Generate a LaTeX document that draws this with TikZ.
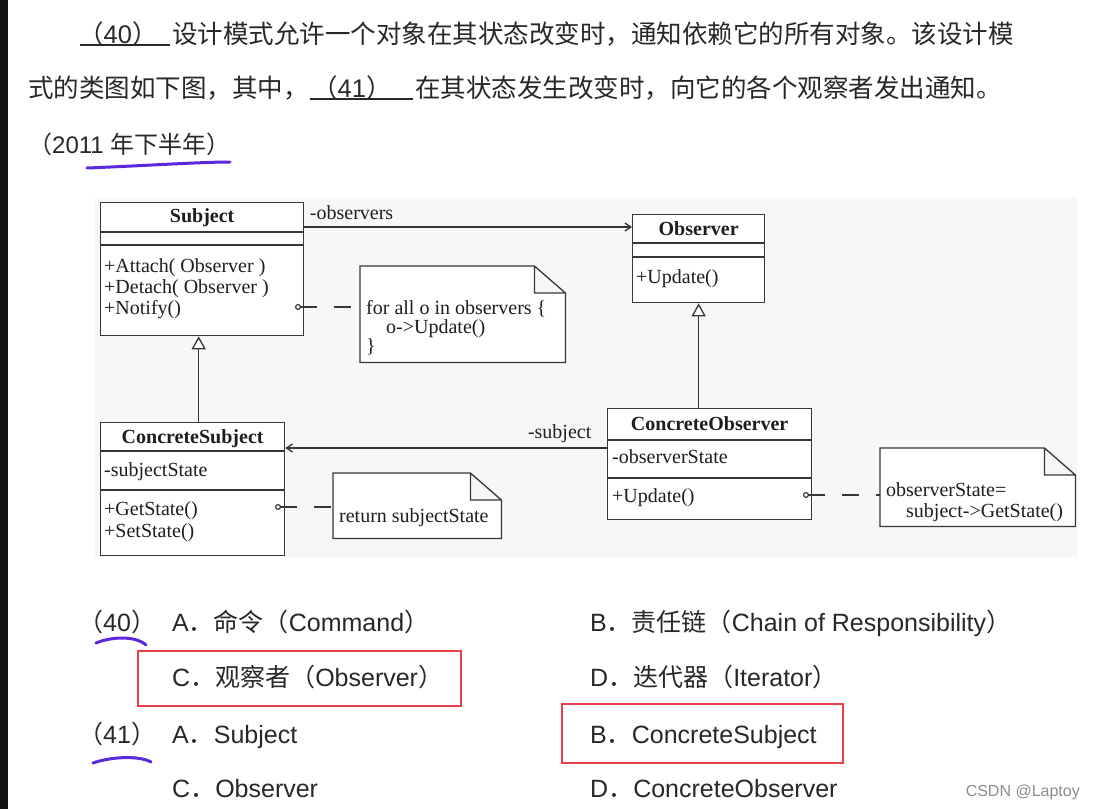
\documentclass[tikz,border=0pt]{standalone}
\usepackage{fontspec}
\usepackage{tikz}
\usetikzlibrary{arrows.meta}
\setmainfont{Liberation Sans}
\newfontfamily\cjk{Noto Sans CJK SC}
\newfontfamily\umlfont{Liberation Serif}
\definecolor{umlline}{RGB}{55,55,55}
\definecolor{umltext}{RGB}{30,30,30}
\definecolor{qink}{RGB}{40,40,40}
\definecolor{diagbg}{RGB}{247,247,247}
\definecolor{pickred}{RGB}{232,62,72}
\definecolor{penink}{RGB}{92,40,220}

\begin{document}
\begin{tikzpicture}[
  x=1pt, y=-1pt,
  cls/.style={draw=umlline, line width=1.3pt, fill=white, inner sep=0pt, anchor=north west},
  sep/.style={draw=umlline, line width=1.3pt},
  ctitle/.style={font=\umlfont\bfseries\fontsize{20}{24}\selectfont, text=umltext, anchor=base, inner sep=0pt},
  member/.style={font=\umlfont\fontsize{20}{24}\selectfont, text=umltext, anchor=base west, inner sep=0pt},
  notebox/.style={inner sep=0pt, anchor=north west},
  noteline/.style={draw=umlline, line width=1.3pt, fill=white},
  notelink/.style={{Circle[open, length=6pt, width=6pt]}-, draw=umlline, line width=1.2pt, dash pattern=on 17pt off 17pt},
  assoc/.style={-{Straight Barb[length=6pt, width=8pt]}, draw=umlline, line width=1.3pt},
  inherit/.style={-{Triangle[length=13pt, width=14pt, fill=white]}, draw=umlline, line width=1.3pt},
  lbl/.style={font=\umlfont\fontsize{20}{24}\selectfont, text=umltext, inner sep=0pt},
  qtext/.style={anchor=base west, inner sep=0pt, font=\fontsize{25.5}{30}\selectfont, text=qink},
  opt/.style={anchor=base west, inner sep=0pt, font=\fontsize{25}{30}\selectfont, text=qink},
  pick/.style={draw=pickred, line width=2pt, inner sep=0pt, anchor=north west},
  ink/.style={draw=penink, line width=3pt, line cap=round},
  uline/.style={draw=qink, line width=1.6pt}
]
\fill[white] (0,0) rectangle (1094,809);
\useasboundingbox (0,0) rectangle (1094,809);
\fill[black!93] (0,0) rectangle (8,809);

% question
\node[qtext] (q40) at (78,43) {{\cjk （}40{\cjk ）}};
\draw[uline] (80,45) -- (170,45);
\node[qtext] (q1) at (172,43) {\cjk 设计模式允许一个对象在其状态改变时，通知依赖它的所有对象。该设计模};
\node[qtext] (q2a) at (28,97) {\cjk 式的类图如下图，其中，};
\node[qtext] (q41) at (312,97) {{\cjk （}41{\cjk ）}};
\draw[uline] (310,99) -- (413,99);
\node[qtext] (q2b) at (415,97) {\cjk 在其状态发生改变时，向它的各个观察者发出通知。};
\node[qtext, font=\fontsize{24}{30}\selectfont] (year) at (28,153) {{\cjk （}2011 {\cjk 年下半年）}};
\draw[ink] (87,168) .. controls (140,166) and (200,162) .. (230,162);

% class diagram
\fill[diagbg] (95,198) rectangle (1077,557);

\node[cls, minimum width=203pt, minimum height=133pt] (subject) at (100,202) {};
\draw[sep] (subject.west |- 0,232) -- (subject.east |- 0,232);
\draw[sep] (subject.west |- 0,245) -- (subject.east |- 0,245);
\node[ctitle] (subjectT) at (subject.north |- 0,222) {Subject};
\node[member] (attach) at (104,272) {+Attach( Observer )};
\node[member] (detach) at (104,293) {+Detach( Observer )};
\node[member] (notify) at (104,314) {+Notify()};

\node[cls, minimum width=132pt, minimum height=88pt] (observer) at (632,214) {};
\draw[sep] (observer.west |- 0,243) -- (observer.east |- 0,243);
\draw[sep] (observer.west |- 0,257) -- (observer.east |- 0,257);
\node[ctitle] (observerT) at (observer.north |- 0,235) {Observer};
\node[member] (update) at (636,283) {+Update()};

\node[cls, minimum width=184pt, minimum height=133pt] (csubject) at (100,422) {};
\draw[sep] (csubject.west |- 0,451) -- (csubject.east |- 0,451);
\draw[sep] (csubject.west |- 0,490) -- (csubject.east |- 0,490);
\node[ctitle] (csubjectT) at (csubject.north |- 0,443) {ConcreteSubject};
\node[member] (sstate) at (104,476) {-subjectState};
\node[member] (getstate) at (104,515) {+GetState()};
\node[member] (setstate) at (104,537) {+SetState()};

\node[cls, minimum width=204pt, minimum height=111pt] (cobserver) at (607,408) {};
\draw[sep] (cobserver.west |- 0,440) -- (cobserver.east |- 0,440);
\draw[sep] (cobserver.west |- 0,478) -- (cobserver.east |- 0,478);
\node[ctitle] (cobserverT) at (cobserver.north |- 0,430) {ConcreteObserver};
\node[member] (ostate) at (612,463) {-observerState};
\node[member] (cupdate) at (612,502) {+Update()};

% notes
\node[notebox, minimum width=205pt, minimum height=96pt] (notea) at (360,266) {};
\node[notebox, minimum width=168pt, minimum height=65pt] (noteb) at (333,473) {};
\node[notebox, minimum width=195pt, minimum height=78pt] (notec) at (880,448) {};
\foreach \n in {notea,noteb,notec}
  \draw[noteline] (\n.north west) -- ([xshift=-31pt]\n.north east) -- ([yshift=-27pt]\n.north east)
    -- (\n.south east) -- (\n.south west) -- cycle
    ([xshift=-31pt]\n.north east) |- ([yshift=-27pt]\n.north east);
\node[member] (loop1) at (366,314) {for all o in observers \{};
\node[member] (loop2) at (386,333) {o->Update()};
\node[member] (loop3) at (366,352) {\}};
\node[member] (ret) at (339,522) {return subjectState};
\node[member] (assign1) at (886,496) {observerState=};
\node[member] (assign2) at (906,517) {subject->GetState()};

\coordinate (ca) at (295,307);
\coordinate (cb) at (275,507);
\coordinate (cc) at (803,495);
\draw[notelink] (ca) -- (notea.west |- ca);
\draw[notelink] (cb) -- (noteb.west |- cb);
\draw[notelink] (cc) -- (notec.west |- cc);

% relations
\draw[assoc] ([yshift=-25pt]subject.north east) -- ([yshift=-13pt]observer.north west)
  node[lbl, at start, anchor=base west, xshift=5pt, yshift=8pt] (obsL) {-observers};
\draw[assoc] ([yshift=-40pt]cobserver.north west) -- ([yshift=-26pt]csubject.north east)
  node[lbl, at start, anchor=base east, xshift=-15pt, yshift=10pt] (subL) {-subject};
\draw[inherit] ([xshift=6pt]csubject.north) -- ([xshift=6pt]csubject.north |- subject.south);
\draw[inherit] (cobserver.north -| observer.south) -- (observer.south);

% options
\node[opt] (n40) at (78,631) {{\cjk （}40{\cjk ）}};
\node[opt] (o40a) at (172,631) {A{\cjk ．命令（}Command{\cjk ）}};
\node[opt] (o40b) at (590,631) {B{\cjk ．责任链（}Chain of Responsibility{\cjk ）}};
\node[opt] (o40c) at (172,686) {C{\cjk ．观察者（}Observer{\cjk ）}};
\node[opt] (o40d) at (590,686) {D{\cjk ．迭代器（}Iterator{\cjk ）}};
\node[opt] (n41) at (78,743) {{\cjk （}41{\cjk ）}};
\node[opt] (o41a) at (172,743) {A{\cjk ．}Subject};
\node[opt] (o41b) at (590,743) {B{\cjk ．}ConcreteSubject};
\node[opt] (o41c) at (172,797) {C{\cjk ．}Observer};
\node[opt] (o41d) at (590,797) {D{\cjk ．}ConcreteObserver};

\node[pick, minimum width=323pt, minimum height=55pt] (pickc) at (137,650) {};
\node[pick, minimum width=281pt, minimum height=59pt] (pickb) at (561,703) {};

\draw[ink] (96,643) .. controls (110,637) and (135,635) .. (146,645);
\draw[ink] (93,763) .. controls (110,757) and (138,755) .. (151,762);

\node[anchor=base east, inner sep=0pt, font=\fontsize{16}{19}\selectfont, text=black!45] (wm) at (1080,796) {CSDN @Laptoy};
\end{tikzpicture}
\end{document}
